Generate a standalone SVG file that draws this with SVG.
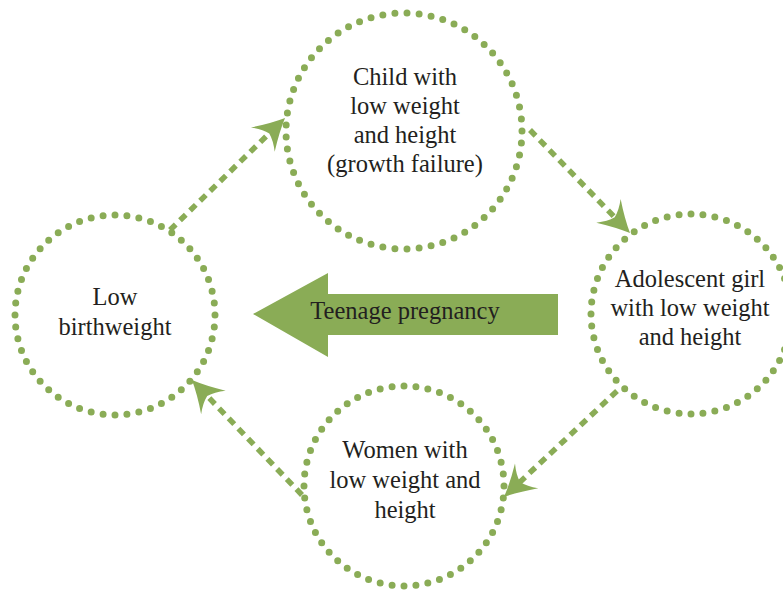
<svg xmlns="http://www.w3.org/2000/svg" width="783" height="590" viewBox="0 0 783 590">
<style>
.ring{fill:none;stroke:#8aac56;stroke-width:7;stroke-linecap:round;stroke-dasharray:0 1}
.lbl{font-family:"Liberation Serif","Times New Roman",serif;font-size:24.5px;fill:#231f20;text-anchor:middle}
.conn{fill:none;stroke:#8aac56;stroke-width:5.5;stroke-dasharray:8 6}
</style>
<defs>
<marker id="stealth" markerUnits="userSpaceOnUse" orient="auto" refX="-20" refY="0" markerWidth="1" markerHeight="1" overflow="visible">
<path d="M0,0 Q-14,-6 -31,-17 Q-24,-8 -22,0 Q-24,8 -31,17 Q-14,6 0,0 Z" fill="#8aac56"/>
</marker>
</defs>
<rect width="783" height="590" fill="#ffffff"/>
<g id="connectors">
<line class="conn" x1="170" y1="230" x2="270.7" y2="132" marker-end="url(#stealth)"/>
<line class="conn" x1="530" y1="130" x2="616.1" y2="218.7" marker-end="url(#stealth)"/>
<line class="conn" x1="617" y1="391" x2="518.6" y2="483.3" marker-end="url(#stealth)"/>
<line class="conn" x1="302" y1="495" x2="205.8" y2="394.5" marker-end="url(#stealth)"/>
</g>
<g id="teenage-pregnancy">
<polygon points="253,314 328,273 328,294 558,294 558,335 328,335 328,357" fill="#8aac56"/>
<text class="lbl" x="405" y="319">Teenage pregnancy</text>
</g>
<g id="low-birthweight">
<circle class="ring" cx="115" cy="315" r="100" pathLength="52"/>
<text class="lbl" x="115" y="305">Low</text>
<text class="lbl" x="115" y="335">birthweight</text>
</g>
<g id="child">
<circle class="ring" cx="404" cy="131" r="118" pathLength="61"/>
<text class="lbl" x="405" y="85">Child with</text>
<text class="lbl" x="405" y="114">low weight</text>
<text class="lbl" x="405" y="143">and height</text>
<text class="lbl" x="405" y="172">(growth failure)</text>
</g>
<g id="adolescent">
<circle class="ring" cx="691" cy="314" r="100" pathLength="52"/>
<text class="lbl" x="690" y="287">Adolescent girl</text>
<text class="lbl" x="690" y="316">with low weight</text>
<text class="lbl" x="690" y="345">and height</text>
</g>
<g id="women">
<circle class="ring" cx="404" cy="486" r="100" pathLength="52"/>
<text class="lbl" x="405" y="458">Women with</text>
<text class="lbl" x="405" y="488">low weight and</text>
<text class="lbl" x="405" y="518">height</text>
</g>
</svg>
